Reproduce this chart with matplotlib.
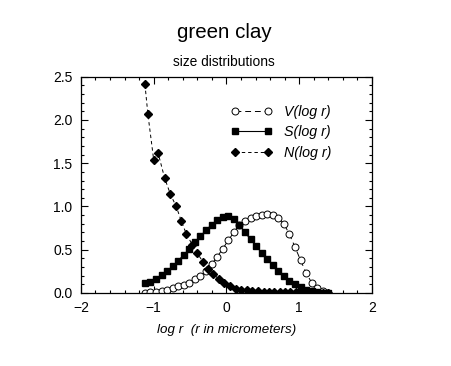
import matplotlib
matplotlib.use('Agg')
import matplotlib.pyplot as plt
from matplotlib.ticker import MultipleLocator

# log r grid used by V and S
logr = [-1.12, -1.044, -0.967, -0.891, -0.815, -0.738, -0.662, -0.586, -0.509,
        -0.433, -0.357, -0.28, -0.204, -0.127, -0.051, 0.025, 0.102, 0.178,
        0.255, 0.331, 0.407, 0.484, 0.56, 0.636, 0.713, 0.789, 0.865, 0.942,
        1.018, 1.095, 1.171, 1.247, 1.324, 1.40]

V = [0.005, 0.008, 0.012, 0.02, 0.04, 0.06, 0.075, 0.095, 0.12,
     0.16, 0.20, 0.25, 0.33, 0.42, 0.51, 0.61, 0.70, 0.78,
     0.83, 0.865, 0.89, 0.905, 0.91, 0.905, 0.87, 0.80, 0.68, 0.53,
     0.38, 0.23, 0.12, 0.055, 0.018, 0.005]

S = [0.11, 0.13, 0.16, 0.21, 0.255, 0.31, 0.375, 0.44, 0.51,
     0.59, 0.66, 0.725, 0.79, 0.845, 0.88, 0.89, 0.85, 0.78,
     0.70, 0.62, 0.54, 0.465, 0.39, 0.32, 0.255, 0.195, 0.14, 0.10,
     0.065, 0.04, 0.02, 0.01, 0.005, 0.002]

# number distribution has its own points
logr_n = [-1.12, -1.08, -1.00, -0.94, -0.85, -0.77, -0.69, -0.62, -0.55, -0.47,
          -0.40, -0.32, -0.25, -0.18, -0.105, -0.03, 0.05, 0.13, 0.20, 0.28,
          0.35, 0.43, 0.51, 0.58, 0.66, 0.73, 0.81, 0.88, 0.96, 1.03,
          1.11, 1.18, 1.26, 1.33, 1.40]
N = [2.41, 2.07, 1.54, 1.62, 1.33, 1.14, 1.00, 0.83, 0.68, 0.56,
     0.46, 0.355, 0.28, 0.22, 0.16, 0.12, 0.08, 0.05, 0.04, 0.03,
     0.022, 0.018, 0.015, 0.012, 0.01, 0.009, 0.008, 0.007, 0.006, 0.005,
     0.005, 0.004, 0.004, 0.003, 0.003]

plt.rcParams['font.family'] = ['Liberation Sans', 'DejaVu Sans']

fig = plt.figure(figsize=(4.52, 3.66), dpi=100)
ax = fig.add_axes([0.179, 0.1995, 0.644, 0.591])

ax.plot(logr, V, color='k', lw=0.7, ls=(0, (6, 4)), marker='o', ms=5.0,
        mfc='white', mec='k', mew=0.7, label='V(log r)')
ax.plot(logr, S, color='k', lw=0.8, ls='-', marker='s', ms=5.0,
        mfc='k', mec='k', label='S(log r)')
ax.plot(logr_n, N, color='k', lw=0.7, ls=(0, (3.5, 3)), marker='D', ms=4.2,
        mfc='k', mec='k', label='N(log r)')

ax.set_xlim(-2, 2)
ax.set_ylim(0, 2.5)
ax.xaxis.set_major_locator(MultipleLocator(1))
ax.xaxis.set_minor_locator(MultipleLocator(0.2))
ax.yaxis.set_major_locator(MultipleLocator(0.5))
ax.yaxis.set_minor_locator(MultipleLocator(0.1))
ax.yaxis.set_major_formatter(plt.FormatStrFormatter('%.1f'))
ax.tick_params(which='both', direction='in', top=True, right=True, width=0.8)
ax.tick_params(which='major', length=5, labelsize=10, pad=6)
ax.tick_params(which='minor', length=2.5)
for sp in ax.spines.values():
    sp.set_linewidth(0.9)

ax.set_xlabel('log r  (r in micrometers)', fontsize=9.6, style='italic', labelpad=6)

leg = ax.legend(loc='upper left', bbox_to_anchor=(0.515, 0.87), frameon=False,
                numpoints=2, handlelength=2.9, handletextpad=0.8,
                labelspacing=0.45, borderpad=0, borderaxespad=0,
                prop={'size': 10.3, 'style': 'italic'})

fig.text(0.497, 0.91, 'green clay', ha='center', va='center', fontsize=14.8)
fig.text(0.495, 0.831, 'size distributions', ha='center', va='center', fontsize=9.9)

fig.savefig('out.png', dpi=100)
